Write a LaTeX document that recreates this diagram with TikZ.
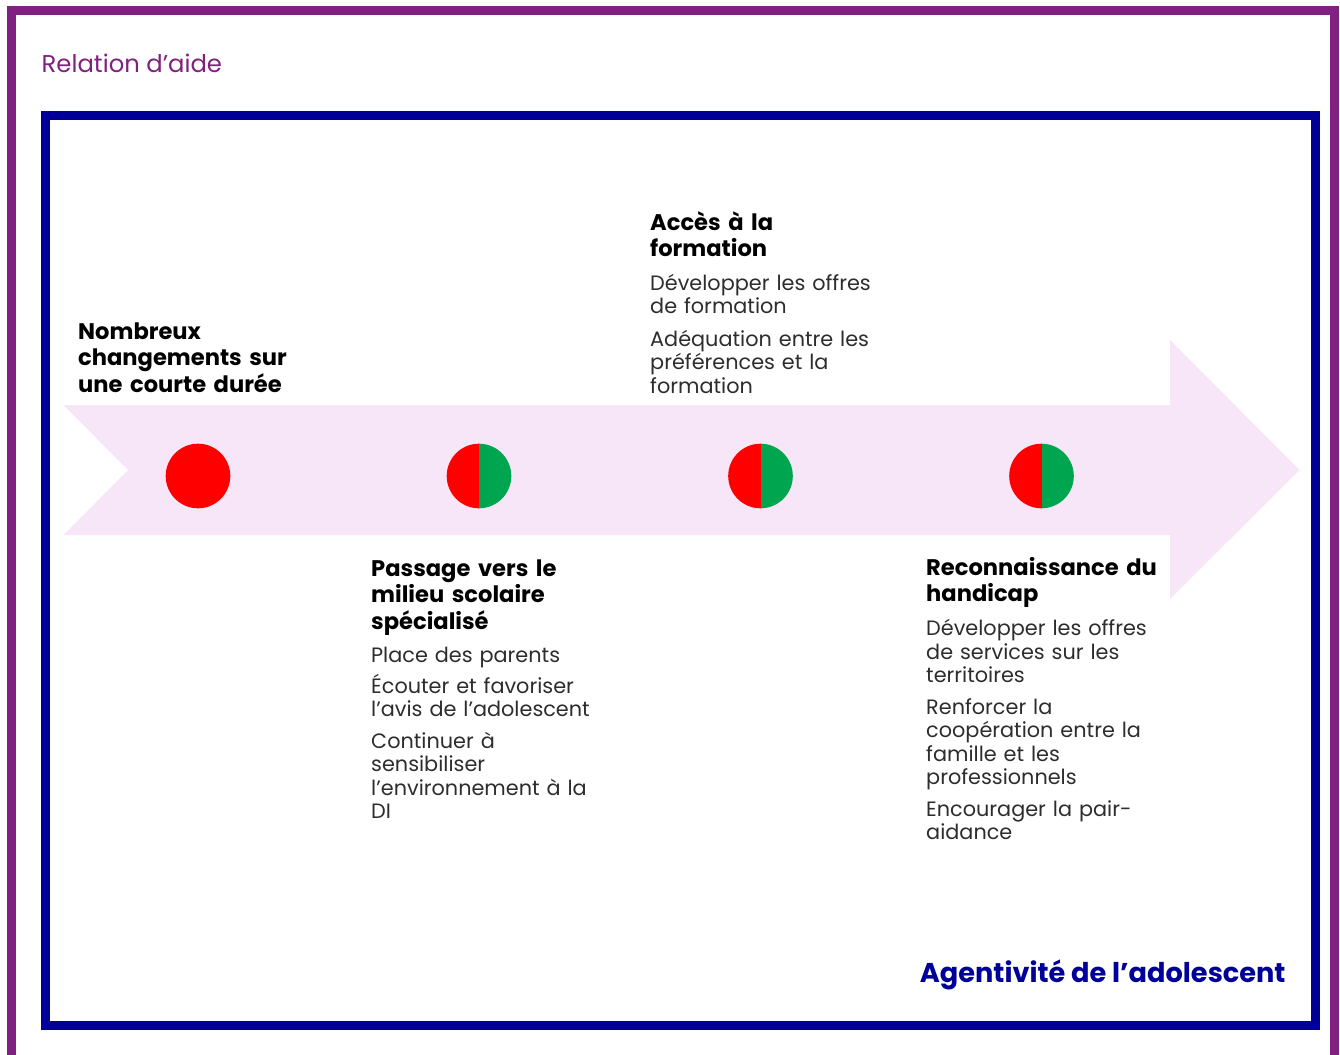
\documentclass[tikz,border=0pt]{standalone}
\usepackage{fontspec}
\setmainfont{Poppins}
\usepackage{tikz}
\tikzset{every picture/.style={x=1pt,y=-1pt}}

\definecolor{framepurple}{RGB}{128,32,128}
\definecolor{frameblue}{RGB}{0,0,153}
\definecolor{arrowpink}{RGB}{246,230,247}
\definecolor{dotred}{RGB}{255,0,0}
\definecolor{dotgreen}{RGB}{0,165,80}
\definecolor{itemgray}{RGB}{45,45,45}

\tikzset{
  heading/.style={anchor=base west, inner sep=0pt, text width=300pt, align=left,
    font=\bfseries\fontsize{22.6}{26.5}\selectfont},
  itemtext/.style={anchor=base west, inner sep=0pt, text width=300pt, align=left,
    text=itemgray, font=\fontsize{20.8}{23.5}\selectfont},
  fulldot/.style={circle, inner sep=0pt, minimum size=64.6pt, fill=dotred},
  halfdot/.style={circle, inner sep=0pt, minimum size=64.6pt, path picture={
    \fill[dotred] ([xshift=-40pt,yshift=-40pt]path picture bounding box.center) rectangle ([yshift=40pt]path picture bounding box.center);
    \fill[dotgreen] ([yshift=-40pt]path picture bounding box.center) rectangle ([xshift=40pt,yshift=40pt]path picture bounding box.center);}}
}

\begin{document}
\begin{tikzpicture}
    \useasboundingbox (0,0) rectangle (1340,1054);
    % frames
    \draw[framepurple, line width=9pt] (11.5,1070) -- (11.5,10.5) -- (1334.5,10.5) -- (1334.5,1070);
    \draw[frameblue, line width=9pt] (45.5,115.5) rectangle (1315.5,1025);
    \node[anchor=base west, inner sep=0pt, text=framepurple, font=\fontsize{24.3}{28}\selectfont] (title) at (41.5,72.7) {Relation d’aide};
    % the arrow
    \fill[arrowpink] (63.5,405) -- (1170,405) -- (1170,340) -- (1299.5,470) -- (1170,599)
      -- (1170,535) -- (63.5,535) -- (128,470) -- cycle;
    % dots on the arrow
    \node[fulldot] (dot1) at (198,476) {};
    \node[halfdot] (dot2) at (479,476) {};
    \node[halfdot] (dot3) at (760.5,476) {};
    \node[halfdot] (dot4) at (1041.5,476) {};
    % texts
    \node[heading] (headA) at (78,339.3) {Nombreux\\changements sur\\une courte durée};
    \node[heading] (headB) at (371,576) {Passage vers le\\milieu scolaire\\spécialisé};
    \node[itemtext] (itemB1) at (371,662) {Place des parents};
    \node[itemtext] (itemB2) at (371,693) {Écouter et favoriser\\l’avis de l’adolescent};
    \node[itemtext] (itemB3) at (371,748) {Continuer à\\sensibiliser\\l’environnement à la\\DI};
    \node[heading] (headC) at (650,230) {Accès à la\\formation};
    \node[itemtext] (itemC1) at (650,290) {Développer les offres\\de formation};
    \node[itemtext] (itemC2) at (650,346) {Adéquation entre les\\préférences et la\\formation};
    \node[heading] (headD) at (926,575) {Reconnaissance du\\handicap};
    \node[itemtext] (itemD1) at (926,635.5) {Développer les offres\\de services sur les\\territoires};
    \node[itemtext] (itemD2) at (926,714) {Renforcer la\\coopération entre la\\famille et les\\professionnels};
    \node[itemtext] (itemD3) at (926,816) {Encourager la pair-\\aidance};
    \node[anchor=base east, inner sep=0pt, text=frameblue, font=\bfseries\fontsize{27.2}{32}\selectfont] (agent) at (1285.7,982.7) {Agentivité de l’adolescent};
\end{tikzpicture}
\end{document}
